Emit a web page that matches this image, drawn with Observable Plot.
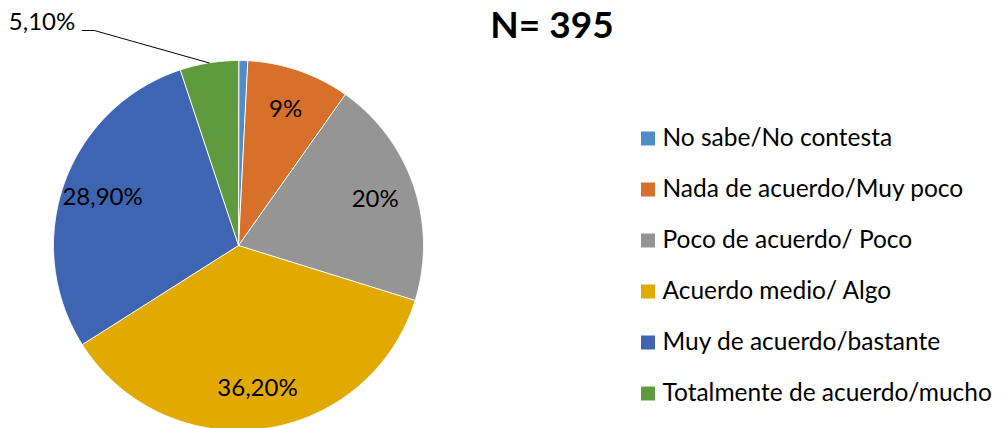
<!DOCTYPE html>
<html>
<head>
<meta charset="utf-8">
<script src="https://cdn.jsdelivr.net/npm/d3@7"></script>
<script src="https://cdn.jsdelivr.net/npm/@observablehq/plot@0.6"></script>
<style>
  html, body { margin: 0; padding: 0; background: #fff; }
  #wrap { position: relative; width: 1004px; height: 428px; overflow: hidden; font-family: Lato, "Open Sans", sans-serif; }
  #wrap svg { position: absolute; left: 0; top: 0; background: transparent; }
  #title { position: absolute; left: 452px; width: 200px; top: 3px; text-align: center; font-weight: bold; font-size: 37px; color: #000; line-height: 42px; }
</style>
</head>
<body>
<div id="wrap"><div id="title">N= 395</div></div>
<script>
const categories = [
  "No sabe/No contesta",
  "Nada de acuerdo/Muy poco",
  "Poco de acuerdo/ Poco",
  "Acuerdo medio/ Algo",
  "Muy de acuerdo/bastante",
  "Totalmente de acuerdo/mucho"
];
const values = [0.8, 9, 20, 36.2, 28.9, 5.1];
const sliceLabels = ["", "9%", "20%", "36,20%", "28,90%", "5,10%"];
const outsideLabel = [false, false, false, false, false, true];
const colors = ["#4f8cc8", "#d6702b", "#959595", "#e2aa00", "#3e65b1", "#5f9a3f"];

const FONT = "Lato, 'Open Sans', sans-serif";
const labelRadius = 0.78;
const calloutOffset = [-0.62, 0.175];
const calloutTail = 0.065;

const data = categories.map((c, i) => ({cat: c, value: values[i], label: sliceLabels[i], outside: outsideLabel[i]}));
const arcs = d3.pie().sort(null).value(d => d.value)(data);

// polygon points per slice, in unit-circle coordinates (y up), angle clockwise from top
const pts = [];
for (const a of arcs) {
  pts.push({cat: a.data.cat, x: 0, y: 0});
  const n = Math.max(2, Math.ceil((a.endAngle - a.startAngle) / 0.005));
  for (let k = 0; k <= n; k++) {
    const t = a.startAngle + (a.endAngle - a.startAngle) * k / n;
    pts.push({cat: a.data.cat, x: Math.sin(t), y: Math.cos(t)});
  }
}

const inside = arcs.filter(a => a.data.label && !a.data.outside).map(a => {
  const m = (a.startAngle + a.endAngle) / 2;
  return {label: a.data.label, x: labelRadius * Math.sin(m), y: labelRadius * Math.cos(m)};
});

const leader = [];
const outsideText = [];
arcs.filter(a => a.data.outside).forEach(a => {
  const m = (a.startAngle + a.endAngle) / 2;
  const ex = Math.sin(m), ey = Math.cos(m);
  const bx = ex + calloutOffset[0], by = ey + calloutOffset[1];
  leader.push({id: a.data.cat, x: ex, y: ey}, {id: a.data.cat, x: bx, y: by}, {id: a.data.cat, x: bx - calloutTail, y: by});
  outsideText.push({label: a.data.label, x: bx - calloutTail, y: by});
});

const pie = Plot.plot({
  width: 1004,
  height: 428,
  margin: 0,
  style: {background: "transparent", fontFamily: FONT, overflow: "visible"},
  x: {domain: [-1, 1], range: [53, 423], axis: null},
  y: {domain: [-1, 1], range: [430, 60], axis: null},
  color: {domain: categories, range: colors},
  marks: [
    Plot.line(pts, {x: "x", y: "y", z: "cat", fill: "cat", stroke: "white", strokeWidth: 1, curve: "linear-closed"}),
    Plot.text(inside, {x: "x", y: "y", text: "label", fontSize: 24, fill: "#000"}),
    Plot.line(leader, {x: "x", y: "y", z: "id", stroke: "#000", strokeWidth: 1}),
    Plot.text(outsideText, {x: "x", y: "y", text: "label", textAnchor: "end", dx: -7, dy: -8, fontSize: 24, fill: "#000"})
  ]
});

const legend = Plot.plot({
  width: 1004,
  height: 428,
  margin: 0,
  style: {background: "transparent", fontFamily: FONT, overflow: "visible"},
  x: {domain: [0, 1], range: [647.5, 1000], axis: null},
  y: {type: "point", domain: categories, range: [136, 395], padding: 0, axis: null},
  color: {domain: categories, range: colors},
  marks: [
    Plot.dot(categories, {x: () => 0, y: d => d, symbol: "square", r: 7.9, fill: d => d, stroke: null}),
    Plot.text(categories, {x: () => 0, y: d => d, text: d => d, textAnchor: "start", dx: 14.5, fontSize: 24.5, fill: "#000"})
  ]
});

const wrap = document.getElementById("wrap");
wrap.appendChild(pie);
wrap.appendChild(legend);
</script>
</body>
</html>
